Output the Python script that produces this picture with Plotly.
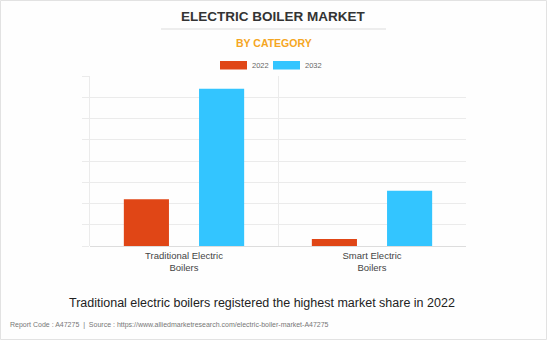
import plotly.graph_objects as go

categories = ["Traditional Electric<br>Boilers", "Smart Electric<br>Boilers"]
years = ["2022", "2032"]
values_2022 = [2.2, 0.33]
values_2032 = [7.4, 2.6]
colors = ["#E04616", "#33C5FF"]

x_pos = list(range(len(categories)))

fig = go.Figure()
for name, vals, col in zip(years, [values_2022, values_2032], colors):
    fig.add_trace(go.Bar(x=x_pos, y=vals, name=name, showlegend=False,
                         marker=dict(color=col, line=dict(width=0))))

grid = "#ebebeb"
W, H = 547, 340
L, R, T, B = 90, 81, 76, 94
PW, PH = W - L - R, H - T - B


def px(x):
    return (x - L) / PW


def py(y):
    return (H - B - y) / PH


shapes = [
    dict(type="rect", xref="paper", yref="paper", x0=px(0.5), x1=px(W - 0.5), y0=py(H - 0.5), y1=py(0.5),
         line=dict(color="#e2e2e2", width=1), fillcolor="rgba(0,0,0,0)"),
    dict(type="line", xref="paper", yref="paper", x0=px(161), x1=px(386),
         y0=py(29), y1=py(29), line=dict(color="#dcdcdc", width=1)),
]
annotations = [
    dict(text="<b>ELECTRIC BOILER MARKET</b>", xref="paper", yref="paper",
         x=px(273.5), y=py(17), showarrow=False, yanchor="middle",
         font=dict(size=13.5, color="#333333")),
    dict(text="<b>BY CATEGORY</b>", xref="paper", yref="paper",
         x=px(274), y=py(43), showarrow=False, yanchor="middle",
         font=dict(size=10.5, color="#F5A623")),
    dict(text="Traditional electric boilers registered the highest market share in 2022",
         xref="paper", yref="paper", x=px(262), y=py(303), showarrow=False,
         yanchor="middle", font=dict(size=12.5, color="#222222")),
    dict(text="Report Code : A47275  |  Source : https://www.alliedmarketresearch.com/electric-boiler-market-A47275",
         xref="paper", yref="paper", x=px(8), xanchor="left", y=py(325),
         showarrow=False, yanchor="middle", font=dict(size=7, color="#777777")),
]

# custom legend (wide swatches as in the reference)
legend_x = [220, 273]
for name, col, lx in zip(years, colors, legend_x):
    shapes.append(dict(type="rect", xref="paper", yref="paper", x0=px(lx), x1=px(lx + 27),
                       y0=py(69.5), y1=py(61), line=dict(color=col, width=0), fillcolor=col))
    annotations.append(dict(text=name, xref="paper", yref="paper", x=px(lx + 30), xanchor="left",
                            y=py(65.3), yanchor="middle", showarrow=False,
                            font=dict(size=7.5, color="#666666")))

fig.update_layout(
    width=W, height=H,
    margin=dict(l=L, r=R, t=T, b=B),
    paper_bgcolor="#fefefe", plot_bgcolor="#fefefe",
    barmode="group", bargap=0.2, bargroupgap=0.4,
    font=dict(family="Liberation Sans, Arial, sans-serif", color="#444"),
    showlegend=False,
    xaxis=dict(range=[-0.5, 1.5], tickvals=x_pos, ticktext=categories, showgrid=False,
               tickfont=dict(size=9.5, color="#444"), ticks="", zeroline=False,
               ticklabelstandoff=2,
               minor=dict(tickvals=[-0.5, 0.5], showgrid=True, gridcolor=grid, ticks="")),
    yaxis=dict(range=[0, 8], dtick=1, showticklabels=False, showgrid=True, gridcolor=grid,
               ticks="outside", ticklen=7, tickcolor=grid, zeroline=True, zerolinecolor="#dddddd",
               zerolinewidth=1, showline=True, linecolor=grid, linewidth=1),
    shapes=shapes,
    annotations=annotations,
)

fig.write_html("out.html")
